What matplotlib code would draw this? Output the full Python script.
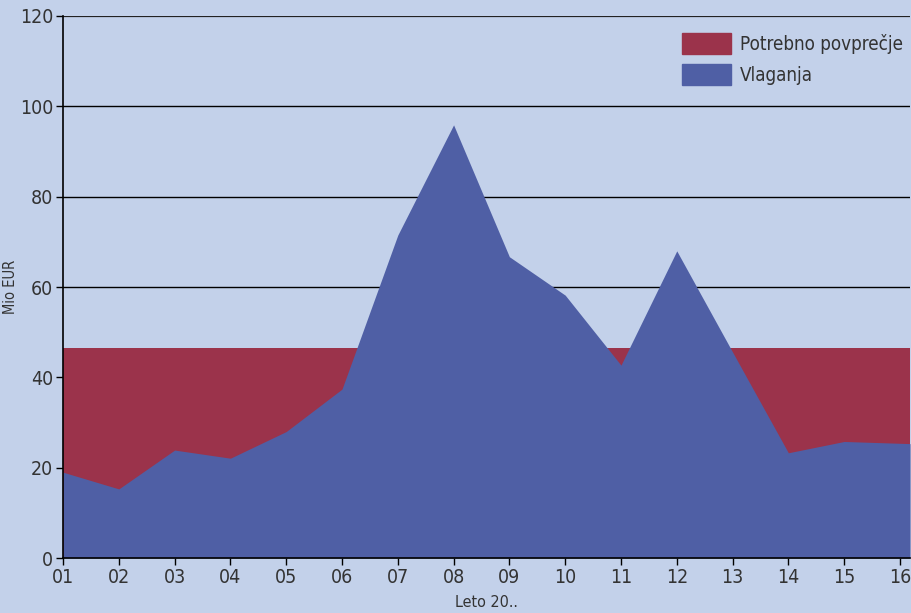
import matplotlib.pyplot as plt
import numpy as np
from matplotlib.patches import Patch

# podatki
years = ["01", "02", "03", "04", "05", "06", "07", "08",
         "09", "10", "11", "12", "13", "14", "15", "16"]
vlaganja = [19.0, 15.3, 23.9, 22.1, 28.0, 37.4, 71.5, 95.9,
            66.7, 58.2, 42.7, 68.0, 45.6, 23.3, 25.8, 25.4]
potrebno = [46.5] * len(years)

bg = "#c3d1ea"
red = "#9b334b"
blue = "#4f5fa5"
txt = "#333333"

plt.rcParams['font.family'] = ['DejaVu Sans']
plt.rcParams['font.stretch'] = 'condensed'
plt.rcParams['font.weight'] = 'light'

fig = plt.figure(figsize=(9.12, 6.13), dpi=100, facecolor=bg)
ax = fig.add_axes([0.0691, 0.0897, 0.9287, 0.8842], facecolor=bg)

x = np.arange(1, len(years) + 1)
xmax = 16.18
# ploskve segajo do desnega roba osi
xf = np.append(x, xmax)
vf = np.append(vlaganja, vlaganja[-1] + (vlaganja[-1] - vlaganja[-2]) * (xmax - x[-1]))
pf = np.append(potrebno, potrebno[-1])

ax.fill_between(xf, 0, pf, color=red, lw=0, zorder=2)
ax.fill_between(xf, 0, vf, color=blue, lw=0, zorder=3)

for y in [20, 40, 60, 80, 100]:
    ax.axhline(y, color="black", lw=1.0, zorder=1)
ax.axhline(120, color="#222222", lw=1.6, zorder=4)

ax.set_xlim(1, xmax)
ax.set_ylim(0, 120)
ax.set_xticks(x)
ax.set_xticklabels(years)
ax.set_yticks(range(0, 121, 20))

for s in ["top", "right"]:
    ax.spines[s].set_visible(False)
for s in ["left", "bottom"]:
    ax.spines[s].set_color("black")
    ax.spines[s].set_linewidth(1.2)
    ax.spines[s].set_zorder(5)

ax.tick_params(direction="out", length=5, width=1, colors="black",
               labelcolor=txt, labelsize=14, pad=2)

ax.set_ylabel("Mio EUR", color=txt, fontsize=10.5)
ax.yaxis.set_label_coords(-0.053, 0.5)
ax.set_xlabel("Leto 20..", color=txt, fontsize=11.5, labelpad=6)

handles = [Patch(color=red, label="Potrebno povprečje"),
           Patch(color=blue, label="Vlaganja")]
leg = ax.legend(handles=handles, loc="upper right", frameon=False,
                fontsize=13.5, handlelength=2.6, handleheight=1.35,
                handletextpad=0.5, labelspacing=0.55,
                bbox_to_anchor=(1.012, 1.0), labelcolor=txt)

fig.savefig("out.png", dpi=100, facecolor=bg)
